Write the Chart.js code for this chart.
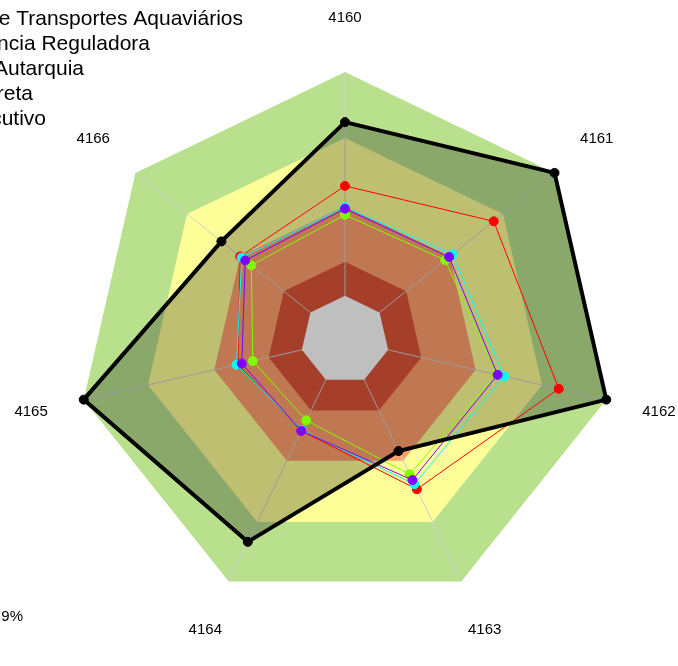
<!DOCTYPE html>
<html>
<head>
<meta charset="utf-8">
<style>
  html, body { margin: 0; padding: 0; background: #ffffff; overflow: hidden; }
  #wrap { width: 678px; height: 666px; }
</style>
<script src="https://cdn.jsdelivr.net/npm/chart.js@4.4.1/dist/chart.umd.min.js"></script>
</head>
<body>
<div id="wrap"><canvas id="radar" width="678" height="666"></canvas></div>
<script>
// axes and series (scale 0..100)
const axisLabels = ['4160', '4161', '4162', '4163', '4164', '4165', '4166'];

const seriesNames = [
    'Agência Nacional de Transportes Aquaviários',
    'Média Agência Reguladora',
    'Média Autarquia',
    'Média Administração Direta',
    'Média Poder Executivo',
];

const antaqValues     = [81.3, 100, 100, 46.0, 83.6, 100, 59.0];
const reguladoraVals  = [57.5, 71.0, 81.8, 61.8, 37.6, 41.0, 50.0];
const autarquiaVals   = [46.7, 47.8, 58.0, 55.6, 33.3, 35.3, 44.7];
const diretaVals      = [49.6, 51.3, 60.9, 59.7, 37.3, 41.5, 49.3];
const executivoVals   = [49.0, 49.7, 58.4, 58.0, 37.6, 39.5, 47.6];

// background bands (outer limit of each band, drawn from outside in)
const bandLimits = [100, 75.4, 50, 29.2, 16.5];
const bandColors = ['#b9e08d', '#ffff99', '#ffa06c', '#dd5538', '#ffffff'];

const footNote = '9%';

const bandsPlugin = {
    id: 'bands',
    beforeDraw(chart) {
        const scale = chart.scales.r;
        const ctx = chart.ctx;
        const n = axisLabels.length;
        const polygon = (v) => {
            ctx.beginPath();
            for (let i = 0; i < n; i++) {
                const p = scale.getPointPositionForValue(i, v);
                if (i === 0) ctx.moveTo(p.x, p.y); else ctx.lineTo(p.x, p.y);
            }
            ctx.closePath();
        };
        ctx.save();
        bandLimits.forEach((v, k) => {
            if (k === bandLimits.length - 1) {
                // spokes, hidden again by the centre
                ctx.strokeStyle = '#cfcfcf';
                ctx.lineWidth = 1;
                for (let i = 0; i < n; i++) {
                    const p = scale.getPointPositionForValue(i, bandLimits[0]);
                    ctx.beginPath();
                    ctx.moveTo(scale.xCenter, scale.yCenter);
                    ctx.lineTo(p.x, p.y);
                    ctx.stroke();
                }
            }
            polygon(v);
            ctx.fillStyle = bandColors[k];
            ctx.fill();
        });
        ctx.restore();
    }
};

const textPlugin = {
    id: 'texts',
    afterDraw(chart) {
        const scale = chart.scales.r;
        const ctx = chart.ctx;
        ctx.save();
        ctx.fillStyle = '#000000';
        ctx.font = '15px "Liberation Sans", Arial, sans-serif';
        ctx.textAlign = 'center';
        ctx.textBaseline = 'middle';
        axisLabels.forEach((lab, i) => {
            const p = scale.getPointPosition(i, 322);
            ctx.fillText(lab, p.x, p.y);
        });

        ctx.textAlign = 'right';
        ctx.fillText(footNote, 23, 617);

        // legend, cut off by the left edge as in the original
        const ends = [243, 150, 84, 33, 46];
        ctx.font = '21px "Liberation Sans", Arial, sans-serif';
        ctx.textBaseline = 'alphabetic';
        seriesNames.forEach((name, i) => {
            ctx.fillText(name, ends[i], 25 + i * 24.9);
        });
        ctx.restore();
    }
};

const lineSet = (label, data, color, width, radius) => ({
    label,
    data,
    borderColor: color,
    backgroundColor: color,
    pointBackgroundColor: color,
    pointBorderColor: color,
    borderWidth: width,
    pointRadius: radius,
    pointBorderWidth: 1,
    fill: false,
    clip: false,
});

const antaqSet = lineSet(seriesNames[0], antaqValues, '#000000', 4, 4.5);
antaqSet.fill = 'origin';
antaqSet.backgroundColor = 'rgba(0, 0, 0, 0.25)';

new Chart(document.getElementById('radar'), {
    type: 'radar',
    data: {
        labels: axisLabels,
        datasets: [
            antaqSet,
            lineSet(seriesNames[4], executivoVals, '#8000ff', 1, 4.5),
            lineSet(seriesNames[3], diretaVals, '#00ffff', 1, 4.5),
            lineSet(seriesNames[2], autarquiaVals, '#80ff00', 1, 4.5),
            lineSet(seriesNames[1], reguladoraVals, '#ff0000', 1, 4.5),
        ]
    },
    plugins: [bandsPlugin, textPlugin],
    options: {
        responsive: false,
        animation: false,
        devicePixelRatio: 1,
        layout: { padding: { left: 77, right: 65, top: 72, bottom: 58 } },
        elements: { line: { tension: 0 } },
        plugins: {
            legend: { display: false },
            tooltip: { enabled: false },
            filler: { drawTime: 'beforeDatasetsDraw' },
        },
        scales: {
            r: {
                min: 0,
                max: 100,
                ticks: { display: false },
                grid: { display: false },
                angleLines: { display: false },
                pointLabels: { display: false },
            }
        }
    }
});
</script>
</body>
</html>
